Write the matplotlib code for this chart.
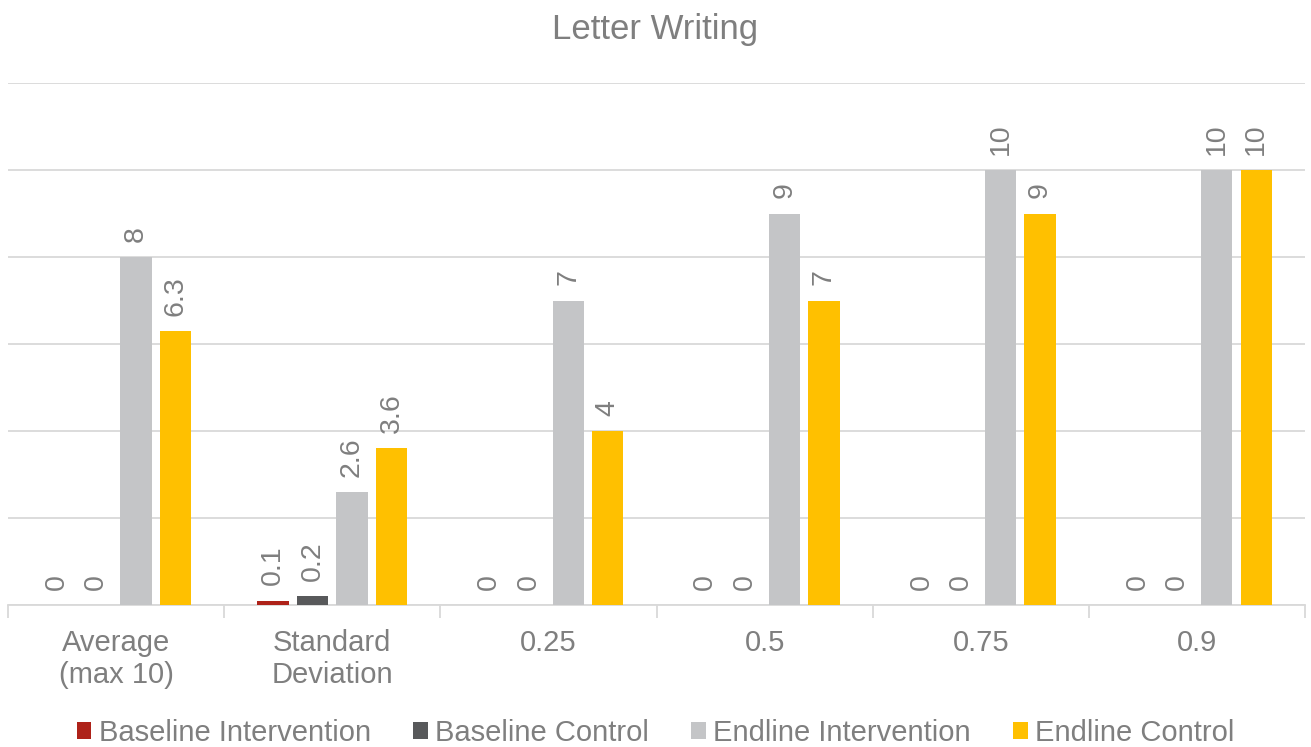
import matplotlib
matplotlib.use("Agg")
import matplotlib.pyplot as plt
import numpy as np
from matplotlib.patches import Patch

categories = ["Average\n(max 10)", "Standard\nDeviation", "0.25", "0.5", "0.75", "0.9"]
series_names = ["Baseline Intervention", "Baseline Control", "Endline Intervention", "Endline Control"]
baseline_intervention = [0, 0.1, 0, 0, 0, 0]
baseline_control = [0, 0.2, 0, 0, 0, 0]
endline_intervention = [8, 2.6, 7, 9, 10, 10]
endline_control = [6.3, 3.6, 4, 7, 9, 10]
colors = ["#AE2219", "#58595B", "#C4C5C7", "#FFC000"]

text_color = "#7F7F7F"
grid_color = "#D9D9D9"

plt.rcParams["font.family"] = ["Liberation Sans", "DejaVu Sans"]

fig = plt.figure(figsize=(13.11, 7.47), dpi=100)
ax = fig.add_axes([8 / 1311, 142 / 747, 1297 / 1311, 522 / 747])

x = np.arange(len(categories))
step = 0.183
width = 0.145
all_series = [baseline_intervention, baseline_control, endline_intervention, endline_control]
for i, (vals, col) in enumerate(zip(all_series, colors)):
    pos = x + (i - 1.5) * step
    ax.bar(pos, vals, width=width, color=col, zorder=3)
    for px, v in zip(pos, vals):
        ax.annotate(f"{v:g}", xy=(px, v), xytext=(0, 11), textcoords="offset points",
                    rotation=90, ha="center", va="bottom", fontsize=20.5, color=text_color)

ax.set_xlim(-0.5, len(categories) - 0.5)
ax.set_ylim(0, 12)
ax.set_yticks(np.arange(0, 13, 2))
ax.yaxis.grid(True, color=grid_color, linewidth=1.3, zorder=0)
ax.tick_params(axis="y", left=False, labelleft=False)

ax.set_xticks(x)
ax.set_xticklabels(categories, fontsize=21, color=text_color, linespacing=1.2)
ax.tick_params(axis="x", which="major", length=0, pad=17)
ax.set_xticks(np.arange(-0.5, len(categories), 1.0), minor=True)
ax.tick_params(axis="x", which="minor", length=9, color=grid_color, width=1.3)

for side in ["top", "right", "left"]:
    ax.spines[side].set_visible(False)
ax.spines["bottom"].set_color(grid_color)
ax.spines["bottom"].set_linewidth(1.3)

fig.text(0.5, 1 - 30 / 747, "Letter Writing", ha="center", va="center",
         fontsize=25, color=text_color)

handles = [Patch(facecolor=c, edgecolor="none") for c in colors]
fig.legend(handles, series_names, loc="center", bbox_to_anchor=(0.5, 1 - 733 / 747),
           ncol=4, frameon=False, fontsize=21, labelcolor=text_color,
           handlelength=0.5, handleheight=0.5, handletextpad=0.25, columnspacing=1.45)

fig.savefig("out.png", dpi=100)
